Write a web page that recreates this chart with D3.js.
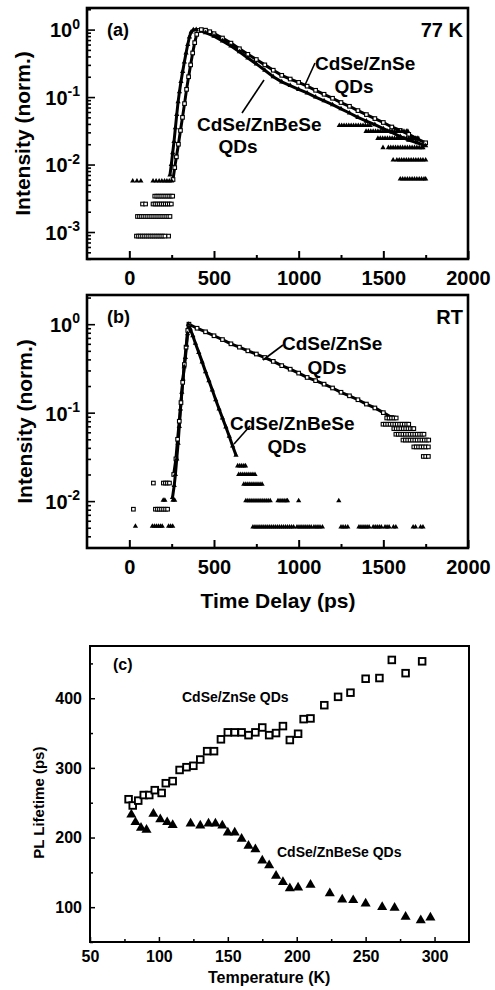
<!DOCTYPE html>
<html>
<head>
<meta charset="utf-8">
<script src="https://cdn.jsdelivr.net/npm/d3@7"></script>
<style>
  body { margin: 0; background: #fff; }
  svg { display: block; }
  text { font-family: "Liberation Sans", Arial, sans-serif; font-weight: bold; fill: #000; }
</style>
</head>
<body>
<svg width="495" height="990"></svg>
<script>
// ---- data ----
// time axis for (a) and (b), ps
let timeTicks = [0, 500, 1000, 1500, 2000];
let timeMinor = [250, 750, 1250, 1750];

// (a) 77 K, main decay traces [t (ps), intensity]
let aZnSe = [[258,0.006],[268,0.009],[278,0.013],[290,0.02],[302,0.032],[314,0.05],[326,0.08],[338,0.13],[350,0.2],[362,0.3],[374,0.45],[386,0.64],[398,0.85],[410,0.97],[425,1.0],[450,0.98],[475,0.93],[500,0.87],[550,0.75],[600,0.63],[650,0.52],[700,0.43],[750,0.36],[800,0.3],[850,0.25],[900,0.21],[950,0.185],[1000,0.165],[1050,0.145],[1100,0.126],[1150,0.11],[1200,0.096],[1250,0.083],[1300,0.073],[1350,0.063],[1400,0.055],[1450,0.048],[1500,0.042],[1550,0.036],[1600,0.032],[1650,0.028],[1700,0.024],[1750,0.021]];
let aBe = [[240,0.007],[248,0.01],[256,0.015],[264,0.022],[272,0.035],[280,0.055],[288,0.085],[296,0.12],[305,0.17],[315,0.24],[325,0.33],[335,0.45],[345,0.6],[355,0.78],[365,0.92],[378,0.99],[395,1.0],[450,0.9],[500,0.8],[550,0.68],[600,0.57],[650,0.47],[700,0.38],[750,0.31],[800,0.25],[850,0.2],[900,0.168],[950,0.148],[1000,0.13],[1050,0.115],[1100,0.1],[1150,0.088],[1200,0.077],[1250,0.067],[1300,0.058],[1350,0.05],[1400,0.044],[1450,0.039],[1500,0.034],[1550,0.03],[1600,0.026],[1650,0.023],[1700,0.021],[1750,0.019]];
// (a) single-count rows (quantised levels)
let aZnSeRows = [
  { level: 0.0034, t: [150, 162, 174, 186, 198, 210, 222, 234, 246, 256] },
  { level: 0.0026, t: [78, 96, 140, 152, 164, 176, 188, 200, 212, 224, 236, 248] },
  { level: 0.0017, t: [48, 60, 72, 84, 96, 108, 120, 132, 144, 156, 168, 180, 192, 204, 216, 228, 240] },
  { level: 0.00087, t: [42, 54, 66, 78, 90, 102, 114, 126, 138, 150, 162, 174, 186, 198, 210, 232] }
];
let aBeRows = [
  { level: 0.0057, t: [20, 45, 68, 140, 158, 176, 192, 208, 222, 236, 250] },
  { level: 0.038, t: [1240, 1254, 1268, 1282, 1296, 1310, 1324, 1338, 1352, 1366, 1380, 1394, 1408, 1422] },
  { level: 0.031, t: [1398, 1412, 1426, 1440, 1454, 1468, 1482, 1496, 1510, 1524, 1538, 1552, 1566, 1580, 1594, 1608, 1622, 1636, 1645] },
  { level: 0.0244, t: [1468, 1482, 1496, 1510, 1524, 1538, 1552, 1566, 1580, 1594, 1608, 1622, 1636, 1650, 1664, 1678, 1692, 1704] },
  { level: 0.0178, t: [1498, 1530, 1544, 1558, 1572, 1586, 1600, 1614, 1628, 1642, 1656, 1670, 1684, 1698, 1712, 1726, 1734] },
  { level: 0.0117, t: [1558, 1580, 1594, 1608, 1622, 1636, 1650, 1664, 1678, 1692, 1706, 1720, 1734, 1750] },
  { level: 0.0061, t: [1600, 1614, 1628, 1642, 1656, 1670, 1684, 1698, 1712, 1726, 1740, 1750] }
];

// (b) room temperature
let bZnSe = [[262,0.02],[275,0.03],[285,0.05],[295,0.08],[305,0.13],[315,0.22],[325,0.35],[335,0.55],[345,0.85],[352,1.0],[400,0.9],[450,0.82],[500,0.74],[550,0.67],[600,0.6],[650,0.55],[700,0.5],[750,0.46],[800,0.42],[850,0.38],[900,0.34],[950,0.31],[1000,0.28],[1050,0.25],[1100,0.23],[1150,0.21],[1200,0.19],[1250,0.17],[1300,0.155],[1350,0.14],[1400,0.125],[1450,0.113],[1500,0.1],[1550,0.088]];
let bBe = [[255,0.011],[265,0.015],[272,0.02],[280,0.03],[288,0.045],[295,0.07],[302,0.11],[310,0.17],[317,0.24],[324,0.33],[331,0.42],[338,0.58],[344,0.78],[349,1.0],[360,0.88],[375,0.74],[390,0.61],[410,0.48],[430,0.375],[450,0.29],[470,0.23],[490,0.18],[510,0.14],[530,0.11],[550,0.087],[570,0.069],[590,0.054],[610,0.042],[630,0.033]];
let bZnSeRows = [
  { level: 0.0081, t: [24, 154, 166, 178, 190, 202, 214, 226] },
  { level: 0.016, t: [142, 201, 213, 225, 237] },
  { level: 0.087, t: [1520, 1534, 1548, 1562, 1576] },
  { level: 0.074, t: [1498, 1512, 1526, 1540, 1554, 1568, 1582, 1596, 1610, 1624, 1638, 1650] },
  { level: 0.066, t: [1562, 1576, 1590, 1604, 1618, 1632, 1646, 1660, 1674, 1680] },
  { level: 0.057, t: [1574, 1588, 1602, 1616, 1630, 1644, 1658, 1672, 1686, 1700, 1714, 1728, 1740] },
  { level: 0.049, t: [1616, 1630, 1644, 1658, 1672, 1686, 1700, 1714, 1728, 1742, 1756, 1768] },
  { level: 0.041, t: [1680, 1694, 1708, 1722, 1736, 1750, 1766] },
  { level: 0.032, t: [1736, 1750, 1766] }
];
let bBeRows = [
  { level: 0.0052, t: [36, 136, 148, 160, 172, 184, 194, 232, 244, 256] },
  { level: 0.0102, t: [200, 210, 258, 268] },
  { level: 0.025, t: [640, 652, 664, 676, 686] },
  { level: 0.02, t: [646, 658, 670, 682, 694, 706, 718, 730, 742] },
  { level: 0.0155, t: [676, 688, 700, 712, 724, 736, 748, 760, 772, 784] },
  { level: 0.0101, t: [688, 700, 712, 724, 736, 748, 760, 772, 784, 796, 808, 820, 832, 878, 890, 902, 914, 926, 934, 1000, 1237] },
  { level: 0.0051, t: [730, 742, 754, 766, 778, 790, 802, 814, 826, 838, 850, 862, 874, 886, 898, 910, 922, 934, 946, 958, 970, 990, 1002, 1014, 1026, 1038, 1050, 1062, 1074, 1090, 1102, 1114, 1126, 1140, 1250, 1262, 1276, 1290, 1356, 1368, 1380, 1392, 1404, 1416, 1440, 1452, 1464, 1476, 1488, 1510, 1522, 1534, 1560, 1574, 1676, 1690, 1720, 1734] }
];

// (c) PL lifetime vs temperature [T (K), lifetime (ps)]
let tempTicks = [50, 100, 150, 200, 250, 300];
let tempMinor = [75, 125, 175, 225, 275];
let lifeTicks = [100, 200, 300, 400];
let lifeMinor = [50, 150, 250, 350, 450];
let cZnSe = [[78,255],[81,246],[85,253],[89,261],[93,261],[97,268],[102,264],[105,278],[110,281],[115,297],[120,301],[125,303],[130,312],[135,324],[140,324],[145,341],[150,351],[155,351],[160,351],[165,347],[170,351],[175,358],[180,347],[185,350],[190,360],[195,340],[201,349],[205,370],[210,371],[220,390],[230,402],[239,408],[250,428],[260,429],[269,455],[279,436],[291,453]];
let cBe = [[80,233],[83,222],[87,214],[91,211],[96,234],[101,226],[106,222],[110,218],[123,220],[130,217],[136,220],[141,220],[146,217],[150,207],[155,207],[160,198],[165,188],[170,183],[175,167],[180,160],[185,145],[190,136],[195,127],[201,128],[210,132],[224,120],[233,111],[241,110],[250,105],[262,100],[271,99],[279,86],[290,81],[297,85]];

// ---- drawing ----
const svg = d3.select("svg");
const triSmall = d3.symbol().type(d3.symbolTriangle).size(12)();

function frame(g, w, h, sw) {
    g.append("rect")
        .attr("width", w).attr("height", h)
        .attr("fill", "none").attr("stroke", "#000").attr("stroke-width", sw);
}

// axis with major + minor ticks, minors in their own group
function tickAxis(g, axisFn, scale, major, minor, bigLen, smallLen, pad, fmt) {
    let a = g.append("g");
    a.call(axisFn(scale).tickValues(major).tickSize(-bigLen).tickPadding(pad).tickFormat(fmt));
    a.append("g").call(axisFn(scale).tickValues(minor).tickSize(-smallLen).tickFormat(""));
    a.attr("font-size", null).attr("font-family", null);
    a.selectAll("g").attr("font-size", null).attr("font-family", null);
    a.selectAll(".domain").remove();
    return a;
}

function decayPanel(p) {
    let g = svg.append("g").attr("transform", `translate(${p.left},${p.top})`);
    let x = d3.scaleLinear().domain([-250, 2000]).range([0, p.w]);
    let y = d3.scaleLog().domain(p.yDom).range([p.h, 0]);

    // bottom axis
    let gx = tickAxis(g, d3.axisBottom, x, timeTicks, timeMinor, 8, 4, 12, d3.format("d"))
        .attr("transform", `translate(0,${p.h})`);
    gx.selectAll("line").attr("stroke-width", 2);
    gx.selectAll("text").attr("font-size", 20);

    // left log axis
    let lo = Math.ceil(Math.log10(p.yDom[0])), hi = Math.floor(Math.log10(p.yDom[1]));
    let decades = d3.range(lo, hi + 1).map(k => Math.pow(10, k));
    let minors = [];
    d3.range(lo - 1, hi + 1).forEach(k => {
        for (let m = 2; m < 10; m++) {
            let v = m * Math.pow(10, k);
            if (v > p.yDom[0] && v < p.yDom[1]) minors.push(v);
        }
    });
    let gy = tickAxis(g, d3.axisLeft, y, decades, minors, 8, 4, 7, () => "");
    gy.selectAll("line").attr("stroke-width", 1.6);
    gy.selectAll(".tick text").filter(d => decades.includes(d))
        .attr("dy", "0.37em").attr("font-size", 20)
        .each(function (d) {
            let t = d3.select(this);
            t.append("tspan").text("10");
            t.append("tspan").attr("font-size", 14).attr("dy", "-0.62em").text(Math.round(Math.log10(d)));
        });

    let line = d3.line().x(d => x(d[0])).y(d => y(d[1]));
    let plot = g.append("g");
    [p.znse, p.be].forEach(s => {
        plot.append("path").datum(s).attr("d", line)
            .attr("fill", "none").attr("stroke", "#000").attr("stroke-width", 3);
    });
    // open squares: CdSe/ZnSe
    let sq = p.znse.concat(...p.znseRows.map(r => r.t.map(t => [t, r.level])));
    plot.selectAll(".sq").data(sq).join("rect").attr("class", "sq")
        .attr("x", d => x(d[0]) - 1.8).attr("y", d => y(d[1]) - 1.8)
        .attr("width", 3.6).attr("height", 3.6)
        .attr("fill", "#fff").attr("stroke", "#000").attr("stroke-width", 1.1);
    // filled triangles: CdSe/ZnBeSe
    let tr = p.be.concat(...p.beRows.map(r => r.t.map(t => [t, r.level])));
    plot.selectAll(".tr").data(tr).join("path").attr("class", "tr")
        .attr("transform", d => `translate(${x(d[0])},${y(d[1])})`)
        .attr("d", triSmall).attr("fill", "#000");

    frame(g, p.w, p.h, 2.6);

    // annotations
    p.notes.forEach(n => {
        g.append("text").attr("x", n.x).attr("y", n.y).attr("font-size", n.size)
            .attr("text-anchor", n.anchor || "start").text(n.text);
    });
    p.arrows.forEach(a => {
        g.append("line").attr("x1", a[0]).attr("y1", a[1]).attr("x2", a[2]).attr("y2", a[3])
            .attr("stroke", "#000").attr("stroke-width", 1.6);
    });
    g.append("text").attr("transform", `translate(${p.ytitleX},${p.h / 2}) rotate(-90)`)
        .attr("text-anchor", "middle").attr("font-size", 21).text("Intensity (norm.)");
    return g;
}

decayPanel({
    left: 87, top: 8, w: 381, h: 251,
    yDom: [Math.pow(10, -3.4), Math.pow(10, 0.32)],
    znse: aZnSe, be: aBe, znseRows: aZnSeRows, beRows: aBeRows,
    ytitleX: -57,
    notes: [
        { x: 20, y: 28, size: 18, text: "(a)" },
        { x: 376, y: 29, size: 20, text: "77 K", anchor: "end" },
        { x: 228, y: 62, size: 19, text: "CdSe/ZnSe" },
        { x: 267, y: 85, size: 19, text: "QDs", anchor: "middle" },
        { x: 110, y: 123, size: 19, text: "CdSe/ZnBeSe" },
        { x: 151, y: 145, size: 19, text: "QDs", anchor: "middle" }
    ],
    arrows: [[228, 55, 218, 77], [155, 105, 177, 72]]
});

decayPanel({
    left: 87, top: 295, w: 381, h: 253,
    yDom: [Math.pow(10, -2.53), Math.pow(10, 0.33)],
    znse: bZnSe, be: bBe, znseRows: bZnSeRows, beRows: bBeRows,
    ytitleX: -55,
    notes: [
        { x: 20, y: 28, size: 18, text: "(b)" },
        { x: 376, y: 29, size: 20, text: "RT", anchor: "end" },
        { x: 195, y: 55, size: 19, text: "CdSe/ZnSe" },
        { x: 240, y: 79, size: 19, text: "QDs", anchor: "middle" },
        { x: 143, y: 135, size: 19, text: "CdSe/ZnBeSe" },
        { x: 200, y: 158, size: 19, text: "QDs", anchor: "middle" }
    ],
    arrows: [[196, 50, 176, 65], [163, 131, 147, 149]]
});

svg.append("text").attr("x", 278).attr("y", 608).attr("text-anchor", "middle")
    .attr("font-size", 21).text("Time Delay (ps)");

// (c)
(function () {
    let p = { left: 90, top: 646, w: 379, h: 296 };
    let g = svg.append("g").attr("transform", `translate(${p.left},${p.top})`);
    let x = d3.scaleLinear().domain([50, 325]).range([0, p.w]);
    let y = d3.scaleLinear().domain([50, 475]).range([p.h, 0]);

    let gx = tickAxis(g, d3.axisBottom, x, tempTicks, tempMinor, 5, 3, 9, d3.format("d"))
        .attr("transform", `translate(0,${p.h})`);
    let gy = tickAxis(g, d3.axisLeft, y, lifeTicks, lifeMinor, 5, 3, 8, d3.format("d"));
    [gx, gy].forEach(a => {
        a.selectAll("line").attr("stroke-width", 1.5);
        a.selectAll("text").attr("font-size", 16);
    });

    g.selectAll(".csq").data(cZnSe).join("rect").attr("class", "csq")
        .attr("x", d => x(d[0]) - 3.3).attr("y", d => y(d[1]) - 3.3)
        .attr("width", 6.6).attr("height", 6.6)
        .attr("fill", "#fff").attr("stroke", "#000").attr("stroke-width", 1.9);
    let tri = d3.symbol().type(d3.symbolTriangle).size(44)();
    g.selectAll(".ctr").data(cBe).join("path").attr("class", "ctr")
        .attr("transform", d => `translate(${x(d[0])},${y(d[1])})`)
        .attr("d", tri).attr("fill", "#000");

    frame(g, p.w, p.h, 2);

    g.append("text").attr("x", 23).attr("y", 24).attr("font-size", 16).text("(c)");
    g.append("text").attr("x", 92).attr("y", 56).attr("font-size", 14).text("CdSe/ZnSe QDs");
    g.append("text").attr("x", 187).attr("y", 211).attr("font-size", 14).text("CdSe/ZnBeSe QDs");
    g.append("text").attr("transform", `translate(-46,${y(250)}) rotate(-90)`)
        .attr("text-anchor", "middle").attr("font-size", 15).text("PL Lifetime (ps)");
    g.append("text").attr("x", x(180)).attr("y", p.h + 41).attr("text-anchor", "middle")
        .attr("font-size", 16).text("Temperature (K)");
})();
</script>
</body>
</html>
